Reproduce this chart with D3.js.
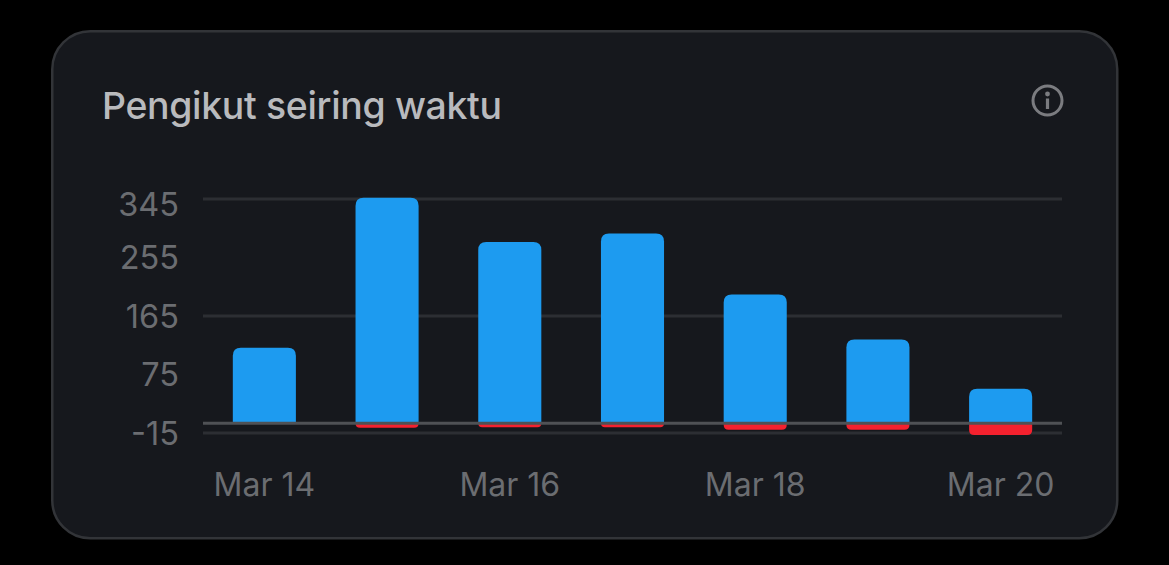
<!DOCTYPE html>
<html><head><meta charset="utf-8">
<script src="https://cdn.jsdelivr.net/npm/d3@7"></script>
<style>html,body{margin:0;background:#000;overflow:hidden}svg{display:block}text{font-family:Inter,"Noto Sans",sans-serif}</style>
</head><body><svg id="c" width="1169" height="565"></svg>
<script>
const categories=["Mar 14","Mar 15","Mar 16","Mar 17","Mar 18","Mar 19","Mar 20"];
const gained=[116,347,279,292,198,129,53];
const lost=[-1,-7,-6,-6,-10,-10,-18];
const yTicks=[345,255,165,75,-15];
const gridTicks=[345,165,-15];
const xLabels=["Mar 14","Mar 16","Mar 18","Mar 20"];
const title="Pengikut seiring waktu";

const svg=d3.select("#c");
svg.append("rect").attr("x",52.25).attr("y",31.25).attr("width",1065).attr("height",507).attr("rx",38)
  .attr("fill","#16181d").attr("stroke","#323438").attr("stroke-width",2.5);
svg.append("text").attr("x",102).attr("y",119).attr("font-size",37.4).attr("font-weight",500).attr("textLength",400).attr("fill","#b9babd").text(title);

const info=svg.append("g").attr("transform","translate(1047.5,100.5)");
info.append("circle").attr("r",14.5).attr("fill","none").attr("stroke","#7b7c80").attr("stroke-width",3);
info.append("circle").attr("cy",-6.5).attr("r",2.4).attr("fill","#7b7c80");
info.append("rect").attr("x",-1.6).attr("y",-2).attr("width",3.2).attr("height",10.5).attr("fill","#7b7c80");

const x=d3.scaleBand().domain(categories).range([203,1062]).paddingInner(0.486).paddingOuter(0.243);
const y=d3.scaleLinear().domain([-15,345]).range([433,199]);

svg.append("g").selectAll("line").data(gridTicks).join("line")
  .attr("x1",203).attr("x2",1062).attr("y1",d=>y(d)).attr("y2",d=>y(d))
  .attr("stroke","#2c2e33").attr("stroke-width",3);

function topBar(c,v){const X=x(c),w=x.bandwidth(),r=8,y0=y(0),y1=y(v);
  return `M${X},${y0}V${y1+r}Q${X},${y1} ${X+r},${y1}H${X+w-r}Q${X+w},${y1} ${X+w},${y1+r}V${y0}Z`;}
function botBar(c,v){const X=x(c),w=x.bandwidth(),y0=y(0),y1=y(v),r=Math.min(5,y1-y0);
  return `M${X},${y0}V${y1-r}Q${X},${y1} ${X+r},${y1}H${X+w-r}Q${X+w},${y1} ${X+w},${y1-r}V${y0}Z`;}

svg.append("g").selectAll("path").data(lost).join("path")
  .attr("d",(d,i)=>botBar(categories[i],d)).attr("fill","#f4212e");
svg.append("g").selectAll("path").data(gained).join("path")
  .attr("d",(d,i)=>topBar(categories[i],d)).attr("fill","#1d9bf0");
svg.append("line").attr("x1",203).attr("x2",1062).attr("y1",y(0)).attr("y2",y(0))
  .attr("stroke","#4f5155").attr("stroke-width",3);

const yAxis=d3.axisLeft(y).tickValues(yTicks).tickSize(0).tickPadding(0).tickFormat(d=>String(d));
const gy=svg.append("g").attr("transform","translate(179,0)").call(yAxis);
gy.select(".domain").remove();
gy.selectAll("text").attr("font-size",32.5).attr("fill","#6b6d71").attr("dy",d=>d===345?"0.5em":"0.35em");

const xAxis=d3.axisBottom(x).tickValues(xLabels).tickSize(0).tickPadding(0);
const gx=svg.append("g").attr("transform","translate(0,473)").call(xAxis);
gx.select(".domain").remove();
gx.selectAll("text").attr("font-size",32).attr("fill","#6b6d71").attr("dy","0.71em");
</script></body></html>
